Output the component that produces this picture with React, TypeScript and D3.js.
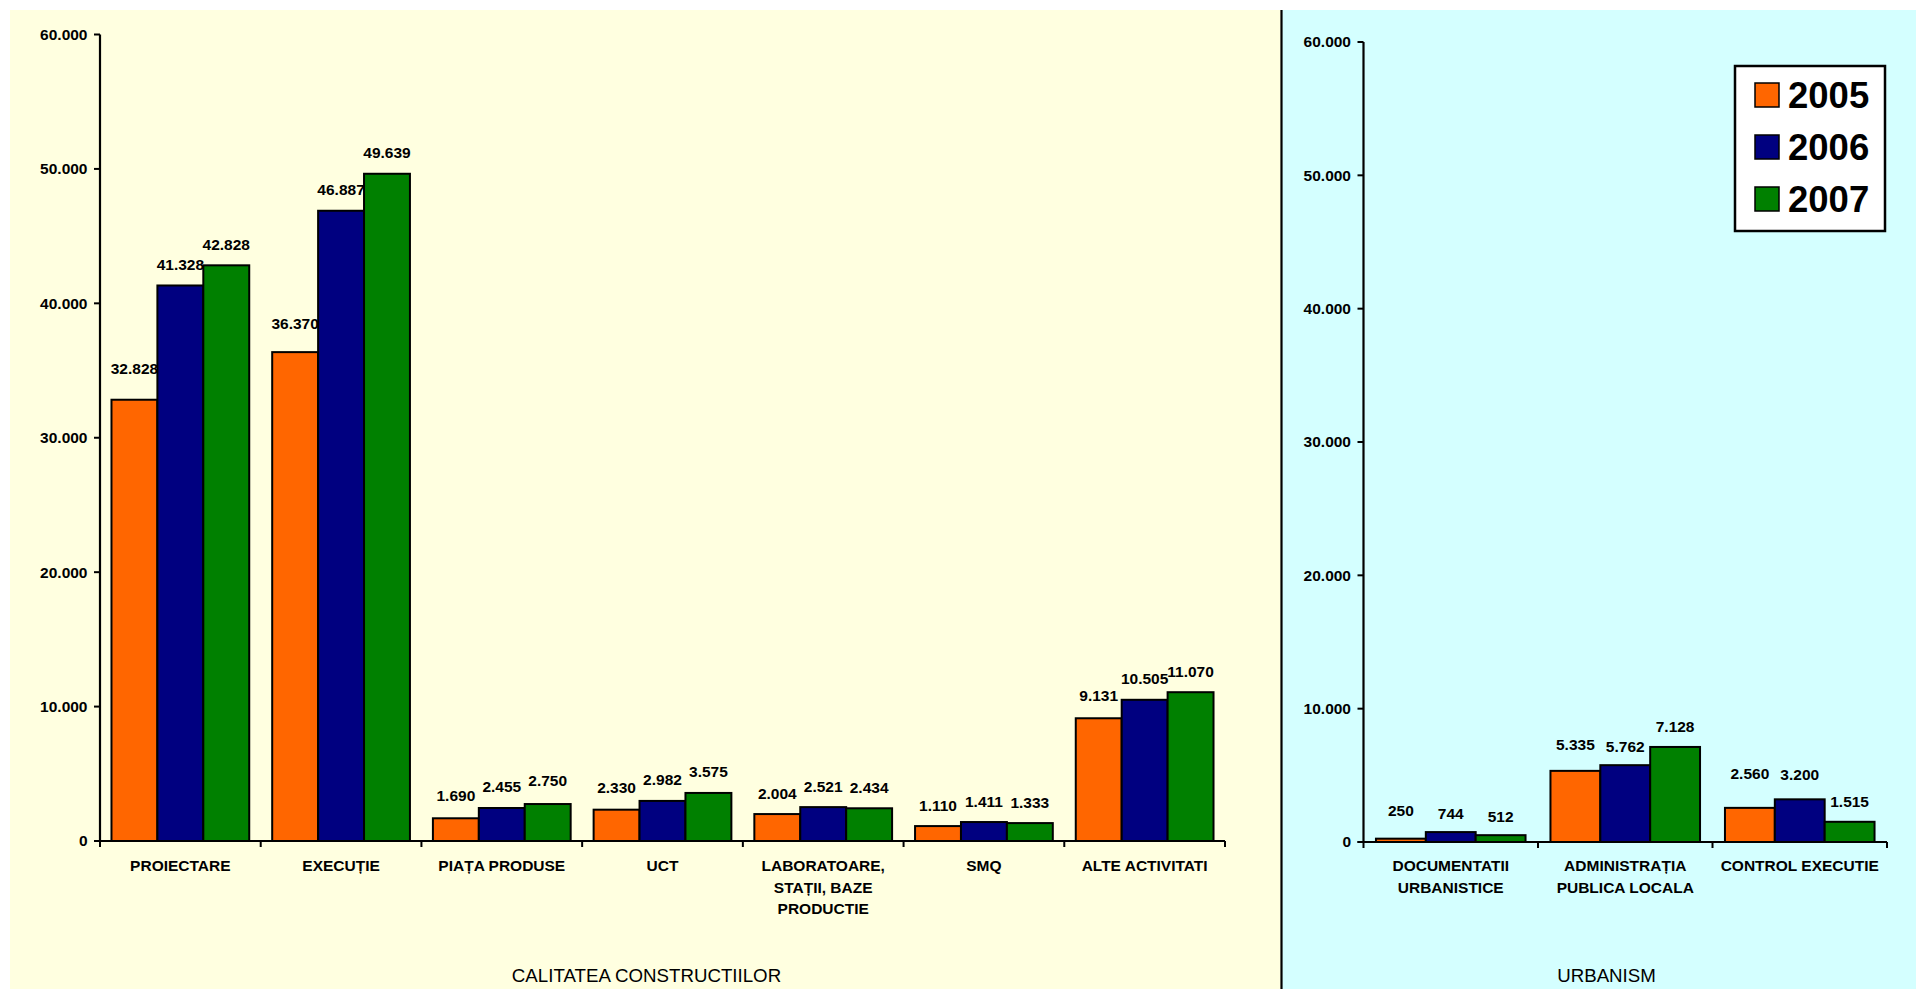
import React from "react";
import * as d3 from "d3";

// ---------- data ----------
const years = ["2005", "2006", "2007"];
const yTicks = [0, 10000, 20000, 30000, 40000, 50000, 60000];

const categoriesLeft = [
  "PROIECTARE",
  "EXECUȚIE",
  "PIAȚA PRODUSE",
  "UCT",
  "LABORATOARE,\nSTAȚII, BAZE\nPRODUCTIE",
  "SMQ",
  "ALTE ACTIVITATI",
];
const left2005 = [32828, 36370, 1690, 2330, 2004, 1110, 9131];
const left2006 = [41328, 46887, 2455, 2982, 2521, 1411, 10505];
const left2007 = [42828, 49639, 2750, 3575, 2434, 1333, 11070];

const categoriesRight = [
  "DOCUMENTATII\nURBANISTICE",
  "ADMINISTRAȚIA\nPUBLICA LOCALA",
  "CONTROL EXECUTIE",
];
const right2005 = [250, 5335, 2560];
const right2006 = [744, 5762, 3200];
const right2007 = [512, 7128, 1515];

const titleLeft = "CALITATEA CONSTRUCTIILOR";
const titleRight = "URBANISM";

// label nudges (extra lift in px, per series per category) – styling only
const liftLeft = [
  [10, 8, 2, 1, 0, 0, 2],
  [0, 0, 1, 0, 0, 0, 0],
  [0, 0, 3, 0, 0, 0, 0],
];
const liftRight = [
  [7, 5, 13],
  [-2, -2, 4],
  [-2, -1, -1],
];

// ---------- style ----------
const colors = ["#FF6600", "#000080", "#008000"];
const FONT = "'Liberation Sans', Arial, Helvetica, sans-serif";
const fmt = d3
  .formatLocale({ decimal: ",", thousands: ".", grouping: [3], currency: ["", ""] })
  .format(",d");

type PanelProps = {
  xLeft: number;
  xRight: number;
  yTop: number;
  yZero: number;
  categories: string[];
  series: number[][];
  lifts: number[][];
};

function Panel({ xLeft, xRight, yTop, yZero, categories, series, lifts }: PanelProps) {
  const x0 = d3.scaleBand<string>().domain(categories).range([xLeft, xRight]).paddingInner(0).paddingOuter(0);
  const x1 = d3
    .scaleBand<string>()
    .domain(years)
    .range([0, x0.bandwidth()])
    .paddingInner(0)
    .paddingOuter(0.25);
  const y = d3.scaleLinear().domain([0, 60000]).range([yZero, yTop]);
  const boundaries = categories.map((c) => x0(c) as number).concat([xRight]);

  return (
    <g>
      {/* bars */}
      {series.map((vals, si) =>
        vals.map((v, ci) => {
          const bx = (x0(categories[ci]) as number) + (x1(years[si]) as number);
          const by = y(v);
          return (
            <rect
              key={`b${si}-${ci}`}
              x={bx}
              y={by}
              width={x1.bandwidth()}
              height={yZero - by}
              fill={colors[si]}
              stroke="#000"
              strokeWidth={2}
            />
          );
        })
      )}
      {/* data labels */}
      {series.map((vals, si) =>
        vals.map((v, ci) => {
          const cx = (x0(categories[ci]) as number) + (x1(years[si]) as number) + x1.bandwidth() / 2;
          return (
            <text
              key={`l${si}-${ci}`}
              x={cx}
              y={y(v) - 15.5 - lifts[si][ci]}
              textAnchor="middle"
              fontFamily={FONT}
              fontWeight="bold"
              fontSize={15.5}
              fill="#000"
            >
              {fmt(v)}
            </text>
          );
        })
      )}
      {/* y axis */}
      <line x1={xLeft} x2={xLeft} y1={y(60000)} y2={yZero} stroke="#000" strokeWidth={2.2} />
      {yTicks.map((t) => (
        <g key={`yt${t}`}>
          <line x1={xLeft - 6} x2={xLeft} y1={y(t)} y2={y(t)} stroke="#000" strokeWidth={2} />
          <text
            x={xLeft - 12.5}
            y={y(t)}
            dy="0.35em"
            textAnchor="end"
            fontFamily={FONT}
            fontWeight="bold"
            fontSize={15.5}
            fill="#000"
          >
            {fmt(t)}
          </text>
        </g>
      ))}
      {/* x axis */}
      <line x1={xLeft - 6} x2={xRight} y1={yZero} y2={yZero} stroke="#000" strokeWidth={2.2} />
      {boundaries.map((b, i) => (
        <line key={`xt${i}`} x1={b} x2={b} y1={yZero} y2={yZero + 6} stroke="#000" strokeWidth={2} />
      ))}
      {categories.map((c) => {
        const cx = (x0(c) as number) + x0.bandwidth() / 2;
        return (
          <text
            key={`c${c}`}
            x={cx}
            y={871}
            textAnchor="middle"
            fontFamily={FONT}
            fontWeight="bold"
            fontSize={15.5}
            fill="#000"
          >
            {c.split("\n").map((line, li) => (
              <tspan key={li} x={cx} dy={li === 0 ? 0 : 21.5}>
                {line}
              </tspan>
            ))}
          </text>
        );
      })}
    </g>
  );
}

export default function App() {
  const W = 1916;
  const H = 989;
  const legendItems = years.map((yr, i) => ({ yr, color: colors[i] }));
  return (
    <div style={{ position: "absolute", left: 0, top: 0 }}>
      <svg width={W} height={H} style={{ display: "block" }}>
        <rect x={0} y={0} width={W} height={H} fill="#fff" />
        <rect x={10} y={10} width={1271} height={H - 10} fill="#FFFFE0" />
        <rect x={1281} y={10} width={W - 1281} height={H - 10} fill="#D4FFFF" />
        <line x1={1281.5} x2={1281.5} y1={10} y2={H} stroke="#000" strokeWidth={2.2} />

        <Panel
          xLeft={100}
          xRight={1225}
          yTop={34.5}
          yZero={841}
          categories={categoriesLeft}
          series={[left2005, left2006, left2007]}
          lifts={liftLeft}
        />
        <Panel
          xLeft={1363.5}
          xRight={1887}
          yTop={42}
          yZero={842}
          categories={categoriesRight}
          series={[right2005, right2006, right2007]}
          lifts={liftRight}
        />

        <text x={646.5} y={981.5} textAnchor="middle" fontFamily={FONT} fontSize={18.7} fill="#000">
          {titleLeft}
        </text>
        <text x={1606.5} y={982} textAnchor="middle" fontFamily={FONT} fontSize={18.7} fill="#000">
          {titleRight}
        </text>

        {/* legend */}
        <rect x={1735} y={66} width={150} height={165} fill="#fff" stroke="#000" strokeWidth={2.5} />
        {legendItems.map((it, i) => (
          <g key={it.yr}>
            <rect x={1755} y={83 + i * 52} width={24} height={24} fill={it.color} stroke="#000" strokeWidth={1.5} />
            <text
              x={1788}
              y={108 + i * 52}
              fontFamily={FONT}
              fontWeight="bold"
              fontSize={36.5}
              fill="#000"
            >
              {it.yr}
            </text>
          </g>
        ))}
      </svg>
    </div>
  );
}
